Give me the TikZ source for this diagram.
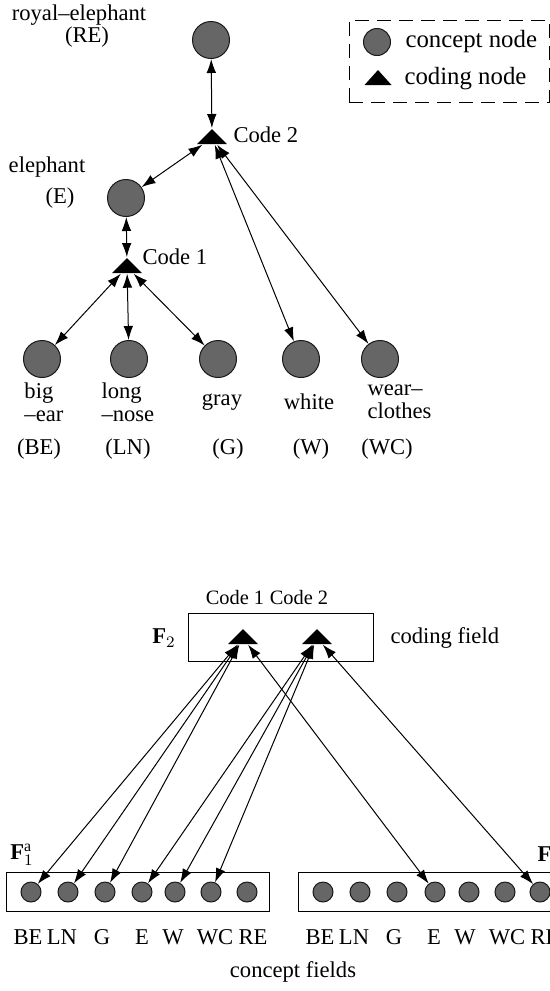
\documentclass[tikz,border=0pt]{standalone}
\usepackage{fontspec}
\setmainfont{Liberation Serif}
\usetikzlibrary{shapes.geometric, positioning, arrows.meta}
\tikzset{
    <->, % every link has a head at both ends
    >={Latex[length=7pt,width=4.8pt]}, % the filled heads
    roundnode/.style={circle, draw=black!90, fill=black!60, inner sep=0pt, minimum size=18.5pt}, % concept node
    codenode/.style={isosceles triangle, isosceles triangle stretches, shape border rotate=90, fill=black, inner sep=0pt, minimum width=15pt, minimum height=7.5pt}, % coding node
    fieldbox/.style={draw, rectangle, inner sep=0pt, minimum width=131.5pt, minimum height=19.5pt},
    txt/.style={inner sep=0pt},
    }
\begin{document}
\begin{tikzpicture}[x=0.5pt, y=-0.5pt, line width=0.5pt, font=\fontsize{11.3}{11.5}\selectfont]
\useasboundingbox (0,0) rectangle (550,991);
\clip (0,0) rectangle (550,991);

% the hierarchy
\node[roundnode] (re) at (211,40) {};
\node[codenode] (c2) at (212,138) {};
\node[roundnode] (e) at (126,198) {};
\node[codenode] (c1) at (127,267) {};
\node[roundnode] (be) at (42,359) {};
\node[roundnode] (ln) at (129,359) {};
\node[roundnode] (g) at (218,359) {};
\node[roundnode] (w) at (301,359) {};
\node[roundnode] (wc) at (380,359) {};

\node[txt] (ret) at (79,15) {royal--elephant};
\node[txt] (rea) at (87,37) {(RE)};
\node[txt, anchor=west] (c2t) at (233,135) {Code 2};
\node[txt] (et) at (47,167) {elephant};
\node[txt] (ea) at (60,198) {(E)};
\node[txt, anchor=west] (c1t) at (142,257) {Code 1};
\node[txt, anchor=west, align=left] (bet) at (24,402) {big\\--ear};
\node[txt, anchor=west, align=left] (lnt) at (101,402) {long\\--nose};
\node[txt] (gt) at (222,402) {gray};
\node[txt] (wt) at (309,402) {white};
\node[txt, anchor=west, align=left] (wct) at (367,402) {wear--\\clothes};
\node[txt] (bea) at (39,449) {(BE)};
\node[txt] (lna) at (128,449) {(LN)};
\node[txt] (ga) at (228,449) {(G)};
\node[txt] (wa) at (311,449) {(W)};
\node[txt] (wca) at (387,449) {(WC)};

\draw (re) edge (c2)
(c2) edge (e)
(e) edge (c1)
(c1) edge (be)
(c1) edge (ln)
(c1) edge (g)
(c2) edge (w)
(c2) edge (wc);

% key
\node[draw, dash pattern=on 7pt off 4pt, inner sep=0pt, minimum width=100pt, minimum height=41pt] (key) at (449,61) {};
\node[roundnode, minimum size=13.5pt] (keyc) at (377,42) {};
\node[codenode, minimum width=13.5pt] (keyk) at (378,79) {};
\node[txt, anchor=west, font=\fontsize{12.4}{13}\selectfont] at (405,42) {concept node};
\node[txt, anchor=west, font=\fontsize{12.4}{13}\selectfont] at (404,79) {coding node};

% coding field
\node[fieldbox, minimum width=92.5pt, minimum height=24pt] (cf) at (280.5,637) {};
\node[codenode] (k1) at (243,638) {};
\node[codenode] (k2) at (317,638) {};
\node[txt, font=\fontsize{10.2}{10.5}\selectfont] at (235,598) {Code 1};
\node[txt, font=\fontsize{10.2}{10.5}\selectfont] at (299,598) {Code 2};
\node[txt] at (164,638) {\textbf{F}$_2$};
\node[txt, anchor=west] at (390,638) {coding field};

% concept fields
\node[fieldbox] (fa) at (137.5,891.5) {};
\node[fieldbox] (fb) at (429.5,891.5) {};
\node[roundnode, minimum size=10pt] (a1) at (31,892) {};
\node[roundnode, minimum size=10pt] (a2) at (68,892) {};
\node[roundnode, minimum size=10pt] (a3) at (105,892) {};
\node[roundnode, minimum size=10pt] (a4) at (142,892) {};
\node[roundnode, minimum size=10pt] (a5) at (175,892) {};
\node[roundnode, minimum size=10pt] (a6) at (211,892) {};
\node[roundnode, minimum size=10pt] (a7) at (247,892) {};
\node[roundnode, minimum size=10pt] (b1) at (323,892) {};
\node[roundnode, minimum size=10pt] (b2) at (360,892) {};
\node[roundnode, minimum size=10pt] (b3) at (397,892) {};
\node[roundnode, minimum size=10pt] (b4) at (435,892) {};
\node[roundnode, minimum size=10pt] (b5) at (469,892) {};
\node[roundnode, minimum size=10pt] (b6) at (505,892) {};
\node[roundnode, minimum size=10pt] (b7) at (540,892) {};

\node[txt] at (28,937) {BE};
\node[txt] at (62,937) {LN};
\node[txt] at (102,937) {G};
\node[txt] at (142,937) {E};
\node[txt] at (173,937) {W};
\node[txt] at (215,937) {WC};
\node[txt] at (253,937) {RE};
\node[txt] at (320,937) {BE};
\node[txt] at (354,937) {LN};
\node[txt] at (394,937) {G};
\node[txt] at (434,937) {E};
\node[txt] at (465,937) {W};
\node[txt] at (507,937) {WC};
\node[txt] at (545,937) {RE};
\node[txt] at (22,855) {\textbf{F}$^{\mathrm{a}}_1$};
\node[txt, anchor=west] at (537,855) {\textbf{F}$^{\mathrm{b}}_1$};
\node[txt] at (293,972) {concept fields};

\draw (k1) edge (a1)
(k1) edge (a2)
(k1) edge (a3)
(k2) edge (a4)
(k2) edge (a5)
(k2) edge (a6)
(k1) edge (b4)
(k2) edge (b7);

\end{tikzpicture}
\end{document}
